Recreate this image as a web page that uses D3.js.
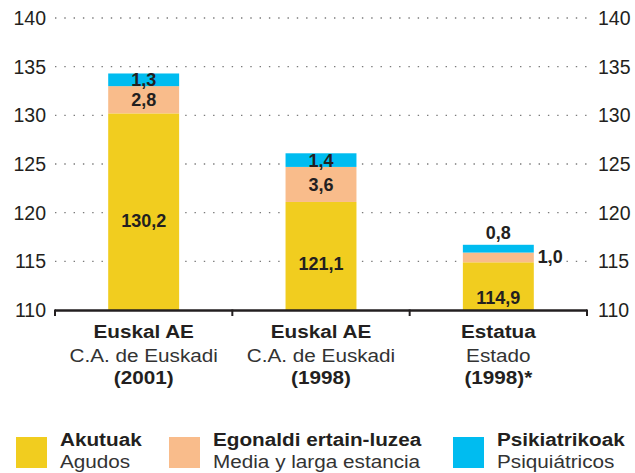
<!DOCTYPE html>
<html>
<head>
<meta charset="utf-8">
<script src="https://cdn.jsdelivr.net/npm/d3@7"></script>
<style>
  html, body { margin: 0; padding: 0; background: #fff; }
  svg { display: block; font-family: "Liberation Sans", Arial, Helvetica, sans-serif; }
</style>
</head>
<body>
<svg id="chart" width="635" height="473"></svg>
<script>
// ---- data ----
const categories = ["c2001", "c1998", "estado"];
const catBold = ["Euskal AE", "Euskal AE", "Estatua"];
const catSub = ["C.A. de Euskadi", "C.A. de Euskadi", "Estado"];
const catYear = ["(2001)", "(1998)", "(1998)*"];
const acute = [130.2, 121.1, 114.9];
const medium = [2.8, 3.6, 1.0];
const psych = [1.3, 1.4, 0.8];
const seriesKeys = ["acute", "medium", "psych"];
const seriesBold = ["Akutuak", "Egonaldi ertain-luzea", "Psikiatrikoak"];
const seriesSub = ["Agudos", "Media y larga estancia", "Psiquiátricos"];
const seriesColors = ["#f1cd1f", "#f9bc8b", "#00bcf0"];
const yTicks = [110, 115, 120, 125, 130, 135, 140];

// ---- layout ----
const svg = d3.select("#chart");
const ink = "#231f20";
const y = d3.scaleLinear().domain([110, 140]).range([310, 18]);
const x = d3.scaleBand().domain(categories).range([55, 587]).padding(0);
const barW = x.bandwidth() * 0.4;
const barX = c => x(c) + (x.bandwidth() - barW) / 2;
const color = d3.scaleOrdinal().domain(seriesKeys).range(seriesColors);

const table = categories.map((c, i) => ({ cat: c, acute: acute[i], medium: medium[i], psych: psych[i] }));
const stacked = d3.stack().keys(seriesKeys)(table);

// gridlines
svg.append("g").selectAll("line")
  .data(yTicks.filter(t => t > 110))
  .join("line")
  .attr("x1", 55).attr("x2", 587)
  .attr("y1", d => y(d)).attr("y2", d => y(d))
  .attr("stroke", "#7a7a7a")
  .attr("stroke-width", 1.4)
  .attr("stroke-dasharray", "1.4,7.9");

// bars
const layers = svg.append("g").selectAll("g")
  .data(stacked)
  .join("g")
  .attr("fill", d => color(d.key));
layers.selectAll("rect")
  .data(d => d)
  .join("rect")
  .attr("x", d => barX(d.data.cat))
  .attr("width", barW)
  .attr("y", d => y(d[1]))
  .attr("height", d => y(Math.max(d[0], 110)) - y(d[1]));

// axis line + ticks
const axisG = svg.append("g").attr("transform", "translate(0,310)");
axisG.append("line").attr("x1", 55).attr("x2", 587).attr("y1", 0.5).attr("y2", 0.5)
  .attr("stroke", ink).attr("stroke-width", 2.4);
const bounds = categories.map(c => x(c)).concat([x.range()[1]]);
axisG.selectAll("line.tick").data(bounds).join("line").attr("class", "tick")
  .attr("x1", d => d).attr("x2", d => d).attr("y1", -0.5).attr("y2", 6)
  .attr("stroke", ink).attr("stroke-width", 2);

// y labels both sides
const yl = svg.append("g").attr("font-size", 19.5).attr("fill", ink);
yl.selectAll("text.l").data(yTicks).join("text").attr("class", "l")
  .attr("x", 46).attr("y", d => y(d)).attr("dy", "0.36em")
  .attr("text-anchor", "end").text(d => d);
yl.selectAll("text.r").data(yTicks).join("text").attr("class", "r")
  .attr("x", 598).attr("y", d => y(d)).attr("dy", "0.36em")
  .attr("text-anchor", "start").text(d => d);

// value labels
const fmt = v => d3.format(".1f")(v).replace(".", ",");
const acuteLabelFrac = [0.42, 0.37, 0.12];
const vl = svg.append("g").attr("font-size", 18).attr("font-weight", "bold").attr("fill", ink);
stacked.forEach((layer, li) => {
  layer.forEach((d, i) => {
    const c = d.data.cat;
    const cx = barX(c) + barW / 2;
    const v = d[1] - d[0];
    const top = y(d[1]), bot = y(Math.max(d[0], 110));
    const h = bot - top;
    const t = vl.append("text").text(fmt(v));
    if (li === 0) {
      t.attr("x", cx).attr("y", bot - h * acuteLabelFrac[i]).attr("text-anchor", "middle");
    } else if (h >= 10.5) {
      t.attr("x", cx).attr("y", (top + bot) / 2).attr("dy", "0.36em").attr("text-anchor", "middle");
    } else if (li === seriesKeys.length - 1) {
      t.attr("x", cx).attr("y", top - 6).attr("text-anchor", "middle");
    } else {
      t.attr("x", barX(c) + barW + 4).attr("y", (top + bot) / 2 - 1).attr("dy", "0.36em").attr("text-anchor", "start");
    }
  });
});

// category labels
const sx = 1.12;
const cl = svg.append("g").attr("fill", ink).attr("font-size", 18.5);
categories.forEach((c, i) => {
  const cx = x(c) + x.bandwidth() / 2;
  const lines = [[catBold[i], "bold", 338], [catSub[i], "normal", 361.5], [catYear[i], "bold", 384]];
  lines.forEach(([txt, w, by]) => {
    cl.append("text")
      .attr("transform", `translate(${cx},${by}) scale(${sx},1)`)
      .attr("text-anchor", "middle")
      .attr("font-weight", w)
      .attr("fill", w === "bold" ? ink : "#333")
      .text(txt);
  });
});

// legend
const legX = [16, 169, 453];
const lg = svg.append("g").attr("font-size", 18.5).attr("fill", ink);
seriesKeys.forEach((k, i) => {
  lg.append("rect").attr("x", legX[i]).attr("y", 437).attr("width", 31).attr("height", 31)
    .attr("fill", color(k));
  lg.append("text").attr("transform", `translate(${legX[i] + 44},446) scale(${sx},1)`)
    .attr("font-weight", "bold").text(seriesBold[i]);
  lg.append("text").attr("transform", `translate(${legX[i] + 44},468) scale(${sx},1)`)
    .attr("fill", "#333").text(seriesSub[i]);
});
</script>
</body>
</html>
